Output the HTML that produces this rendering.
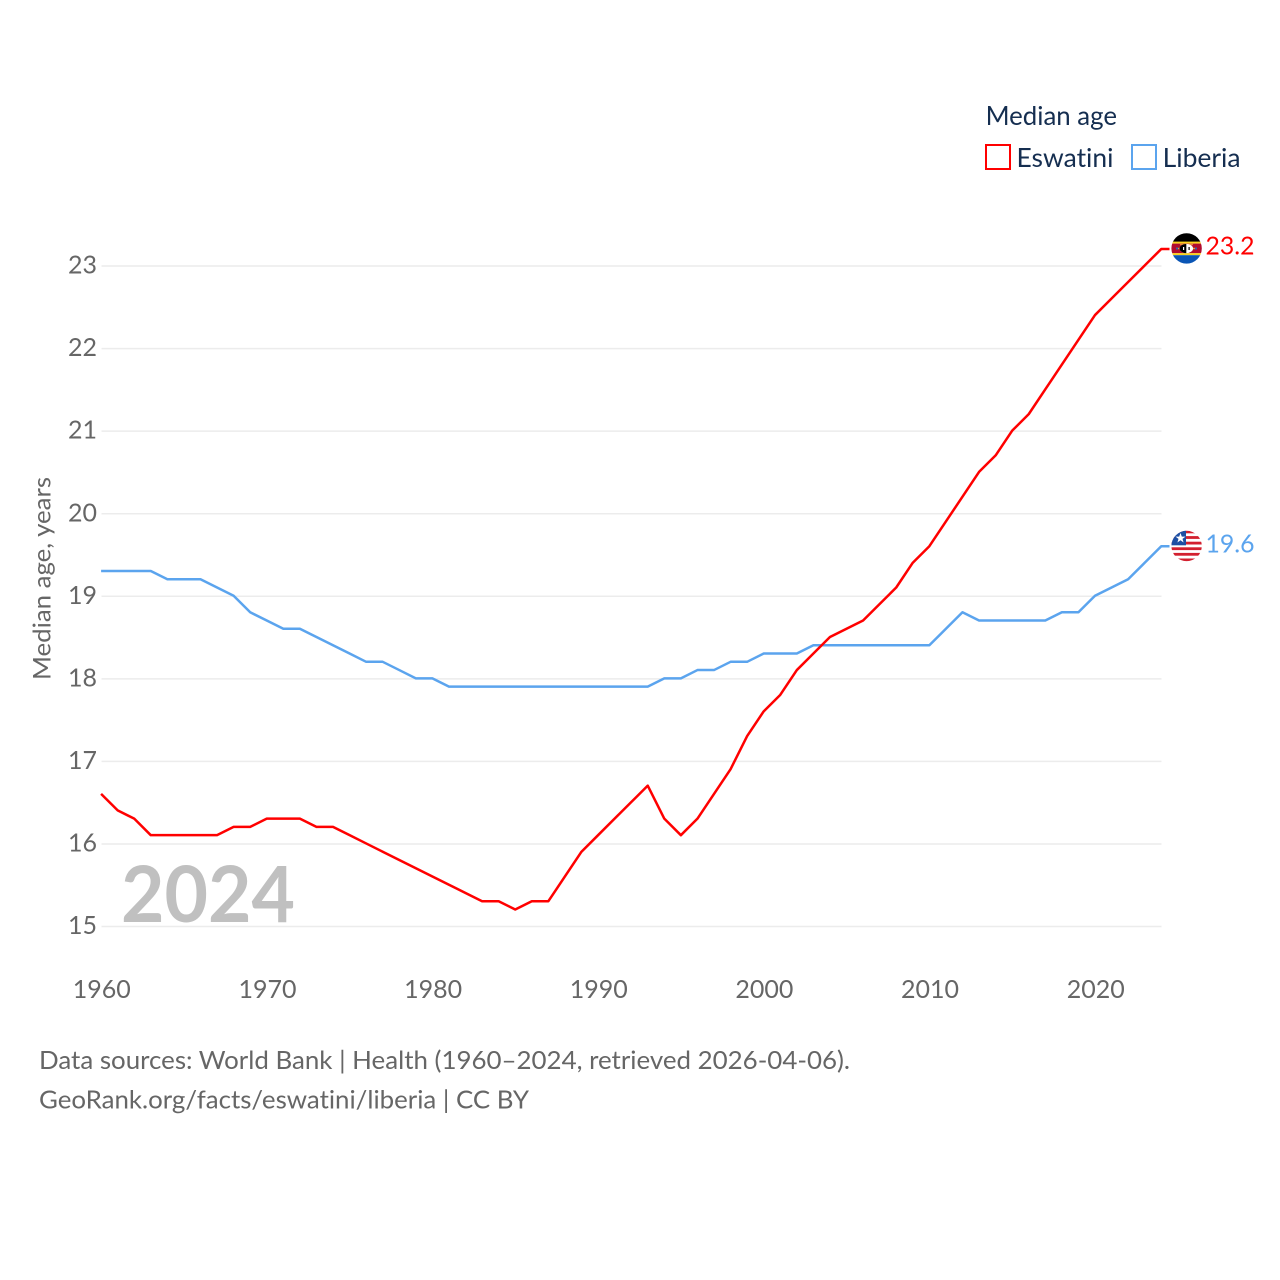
<!DOCTYPE html>
<html lang="en">
<head>
<meta charset="utf-8">
<title>Median age: Eswatini and Liberia</title>
<style>
html,body{margin:0;padding:0;background:#fff;}
svg{display:block;font-family:"Lato","Carlito","Liberation Sans",sans-serif;font-variant-ligatures:none;}
</style>
</head>
<body>
<svg id="chart" xmlns="http://www.w3.org/2000/svg" width="1280" height="1280" viewBox="0 0 1280 1280">
  <rect width="1280" height="1280" fill="#fff"/>
  <g id="grid"></g>
  <g id="yticks"></g>
  <g id="xticks"></g>
  <text transform="translate(50.5,680) rotate(-90)" font-size="24.5" fill="#666" textLength="203" lengthAdjust="spacingAndGlyphs">Median age, years</text>
  <text x="121" y="922" font-size="78" font-weight="700" fill="#c0c0c0" textLength="174" lengthAdjust="spacingAndGlyphs">2024</text>
  <g id="lines"></g>

  <g>
    <clipPath id="clipE"><circle cx="1186.6" cy="248.4" r="15.2"/></clipPath>
    <g clip-path="url(#clipE)">
      <rect x="1170" y="232" width="34" height="10" fill="#000"/>
      <rect x="1170" y="241.6" width="34" height="2" fill="#f8d21c"/>
      <rect x="1170" y="243.6" width="34" height="9.6" fill="#b10c2f"/>
      <rect x="1170" y="253.2" width="34" height="2" fill="#f8d21c"/>
      <rect x="1170" y="255.2" width="34" height="10" fill="#0a55b5"/>
      <rect x="1176" y="247.8" width="21" height="1.4" fill="#e8a33a"/>
      <rect x="1180" y="243.8" width="13" height="1.4" fill="#e8843a"/>
      <circle cx="1177" cy="248.5" r="1.1" fill="#2b5fb0"/>
      <circle cx="1196" cy="248.5" r="1.1" fill="#2b5fb0"/>
      <ellipse cx="1186.3" cy="248.5" rx="6.8" ry="4.6" fill="#fff"/>
      <path d="M1186.3 243.9a6.8 4.6 0 0 0 0 9.2z" fill="#000"/>
      <rect x="1183" y="247" width="1.2" height="3" fill="#fff"/>
      <rect x="1188.5" y="247" width="1.2" height="3" fill="#000"/>
    </g>
  </g>
  <g>
    <clipPath id="clipL"><circle cx="1186.6" cy="546" r="15.2"/></clipPath>
    <g clip-path="url(#clipL)">
      <rect x="1170" y="530" width="34" height="32" fill="#fff"/>
      <rect x="1170" y="530.5" width="34" height="2.8" fill="#d3202f"/>
      <rect x="1170" y="536.1" width="34" height="2.8" fill="#d3202f"/>
      <rect x="1170" y="541.7" width="34" height="2.8" fill="#d3202f"/>
      <rect x="1170" y="547.3" width="34" height="2.8" fill="#d3202f"/>
      <rect x="1170" y="552.9" width="34" height="2.8" fill="#d3202f"/>
      <rect x="1170" y="558.5" width="34" height="2.8" fill="#d3202f"/>
      <rect x="1170" y="530" width="16" height="15.3" fill="#1d4fa3"/>
      <path d="M1180.5 533l1.3 3.6 3.7 0-3 2.3 1.1 3.6-3.1-2.2-3.1 2.2 1.1-3.6-3-2.3 3.7 0z" fill="#fff"/>
    </g>
  </g>

  <text x="1205.5" y="254.5" font-size="25" fill="#ff0000" textLength="49" lengthAdjust="spacingAndGlyphs">23.2</text>
  <text x="1205.5" y="552.5" font-size="25" fill="#5ba4ee" textLength="49" lengthAdjust="spacingAndGlyphs">19.6</text>

  <g>
    <text x="985.6" y="125" font-size="26" fill="#152e50" textLength="131.4" lengthAdjust="spacingAndGlyphs">Median age</text>
    <g>
      <rect x="986" y="145" width="24" height="24" fill="none" stroke="#ff0000" stroke-width="2"/>
      <text x="1016.5" y="167" font-size="26" fill="#152e50" textLength="97" lengthAdjust="spacingAndGlyphs">Eswatini</text>
    </g>
    <g>
      <rect x="1132" y="145" width="24" height="24" fill="none" stroke="#5ba4ee" stroke-width="2"/>
      <text x="1162.6" y="167" font-size="26" fill="#152e50" textLength="78" lengthAdjust="spacingAndGlyphs">Liberia</text>
    </g>
  </g>

  <text x="39" y="1069" font-size="25.2" fill="#666" textLength="811" lengthAdjust="spacingAndGlyphs">Data sources: World Bank | Health (1960–2024, retrieved 2026-04-06).</text>
  <text x="39" y="1108.3" font-size="25.2" fill="#666" textLength="490" lengthAdjust="spacingAndGlyphs">GeoRank.org/facts/eswatini/liberia | CC BY</text>
</svg>
<script>
const startYear = 1960;
const eswatini = [16.6,16.4,16.3,16.1,16.1,16.1,16.1,16.1,16.2,16.2,16.3,16.3,16.3,16.2,16.2,16.1,16.0,15.9,15.8,15.7,15.6,15.5,15.4,15.3,15.3,15.2,15.3,15.3,15.6,15.9,16.1,16.3,16.5,16.7,16.3,16.1,16.3,16.6,16.9,17.3,17.6,17.8,18.1,18.3,18.5,18.6,18.7,18.9,19.1,19.4,19.6,19.9,20.2,20.5,20.7,21.0,21.2,21.5,21.8,22.1,22.4,22.6,22.8,23.0,23.2];
const liberia = [19.3,19.3,19.3,19.3,19.2,19.2,19.2,19.1,19.0,18.8,18.7,18.6,18.6,18.5,18.4,18.3,18.2,18.2,18.1,18.0,18.0,17.9,17.9,17.9,17.9,17.9,17.9,17.9,17.9,17.9,17.9,17.9,17.9,17.9,18.0,18.0,18.1,18.1,18.2,18.2,18.3,18.3,18.3,18.4,18.4,18.4,18.4,18.4,18.4,18.4,18.4,18.6,18.8,18.7,18.7,18.7,18.7,18.7,18.8,18.8,19.0,19.1,19.2,19.4,19.6];
const yTickValues = [15,16,17,18,19,20,21,22,23];
const xTickValues = [1960,1970,1980,1990,2000,2010,2020];

const NS = 'http://www.w3.org/2000/svg';
const xScale = function (year) { return 101.5 + (year - 1960) * 16.565; };
const yScale = function (v) { return 926.5 - (v - 15) * 82.56; };
const make = function (tag, attrs, parent) {
  const el = document.createElementNS(NS, tag);
  Object.keys(attrs).forEach(function (k) { el.setAttribute(k, attrs[k]); });
  parent.appendChild(el);
  return el;
};

const gridGroup = document.getElementById('grid');
const yGroup = document.getElementById('yticks');
yTickValues.forEach(function (v) {
  const line = make('line', {x1: 101.5, x2: 1161.5, y1: yScale(v), y2: yScale(v), stroke: '#ececec', 'stroke-width': 1.5}, gridGroup);
  
  
  const label = make('text', {x: 97, y: yScale(v) + 7.6, 'text-anchor': 'end', 'font-size': 25.4, fill: '#666', textLength: 29, lengthAdjust: 'spacingAndGlyphs'}, yGroup);
  label.textContent = v;
  
  
});

const xGroup = document.getElementById('xticks');
xTickValues.forEach(function (year) {
  const label = make('text', {x: xScale(year) + 0.3, y: 998, 'text-anchor': 'middle', 'font-size': 25.4, fill: '#666', textLength: 58, lengthAdjust: 'spacingAndGlyphs'}, xGroup);
  label.textContent = year;
  
  
});

const lineGroup = document.getElementById('lines');
const drawSeries = function (values, color, name) {
  let d = values.map(function (v, i) {
    return (i ? 'L' : 'M') + (xScale(startYear + i) - 0.4).toFixed(2) + ' ' + (yScale(v) - 0.5).toFixed(2);
  }).join(' ');
  d += ' L1169.5 ' + (yScale(values[values.length - 1]) - 0.5).toFixed(2);
  const path = make('path', {d: d, fill: 'none', stroke: color, 'stroke-width': 2.5, 'stroke-linejoin': 'round'}, lineGroup);
  
  
};
drawSeries(liberia, '#5ba4ee', 'liberia-line');
drawSeries(eswatini, '#ff0000', 'eswatini-line');
</script>
</body>
</html>
